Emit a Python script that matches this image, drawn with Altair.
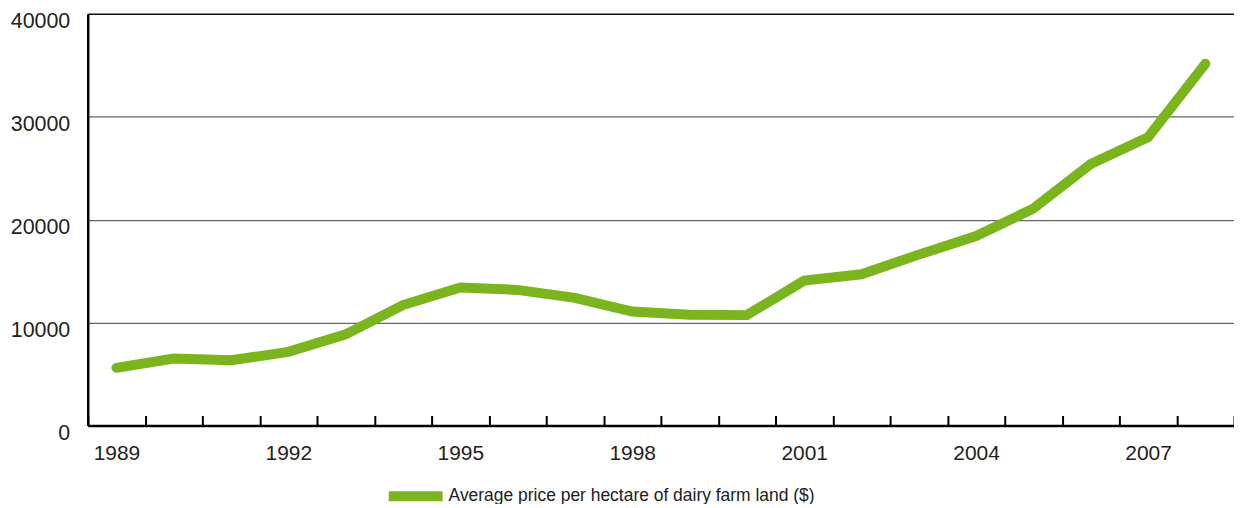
import altair as alt
import pandas as pd

years = list(range(1989, 2009))
prices = [5600, 6500, 6330, 7150, 8850, 11700, 13400, 13170, 12400, 11070,
          10750, 10720, 14070, 14690, 16600, 18400, 21080, 25400, 28000, 35150]
series_name = "Average price per hectare of dairy farm land ($)"
y_ticks = [0, 10000, 20000, 30000, 40000]

df = pd.DataFrame({"year": years, "price": prices, "series": series_name})

GREEN = "#7AB51D"

line = alt.Chart(df).mark_line(strokeWidth=10, strokeCap="round", strokeJoin="miter").encode(
    x=alt.X(
        "year:O",
        title=None,
        scale=alt.Scale(paddingInner=0, paddingOuter=0),
        axis=alt.Axis(
            labelAngle=0,
            tickBand="extent",
            tickSize={"expr": "-10"},
            tickColor="black",
            tickWidth=2,
            domainColor="black",
            domainWidth=2.5,
            labelFont="Liberation Sans",
            labelFontSize=21,
            labelColor="#222222",
            labelPadding=27,
            labelExpr="(datum.value - 1989) % 3 == 0 ? datum.label : ''",
            grid=False,
        ),
    ),
    y=alt.Y(
        "price:Q",
        title=None,
        scale=alt.Scale(domain=[0, 40000], nice=False),
        axis=alt.Axis(
            values=y_ticks,
            format="d",
            ticks=False,
            domainColor="black",
            domainWidth=2.5,
            labelFont="Liberation Sans",
            labelFontSize=21.5,
            labelColor="#222222",
            labelPadding=18,
            labelOffset=8,
            grid=True,
            gridColor={"condition": {"test": "datum.value == 40000", "value": "#111111"}, "value": "#666666"},
            gridWidth={"condition": {"test": "datum.value == 40000", "value": 1.6}, "value": 1.2},
        ),
    ),
    color=alt.Color(
        "series:N",
        scale=alt.Scale(range=[GREEN]),
        legend=alt.Legend(
            title=None,
            orient="none",
            legendX=297,
            legendY=452,
            symbolType="stroke",
            symbolStrokeWidth=10,
            symbolSize=2916,
            labelFont="Liberation Sans",
            labelFontSize=17.5,
            labelColor="#222222",
            labelOffset=1,
            labelLimit=0,
            padding=0,
        ),
    ),
)

chart = line.properties(
    width=1150,
    height=413,
    autosize=alt.AutoSizeParams(type="none"),
    padding={"left": 80, "top": 5, "right": 0, "bottom": 78},
).configure_view(stroke=None)

chart.save("out.html", embed_options={"renderer": "svg", "actions": False})
